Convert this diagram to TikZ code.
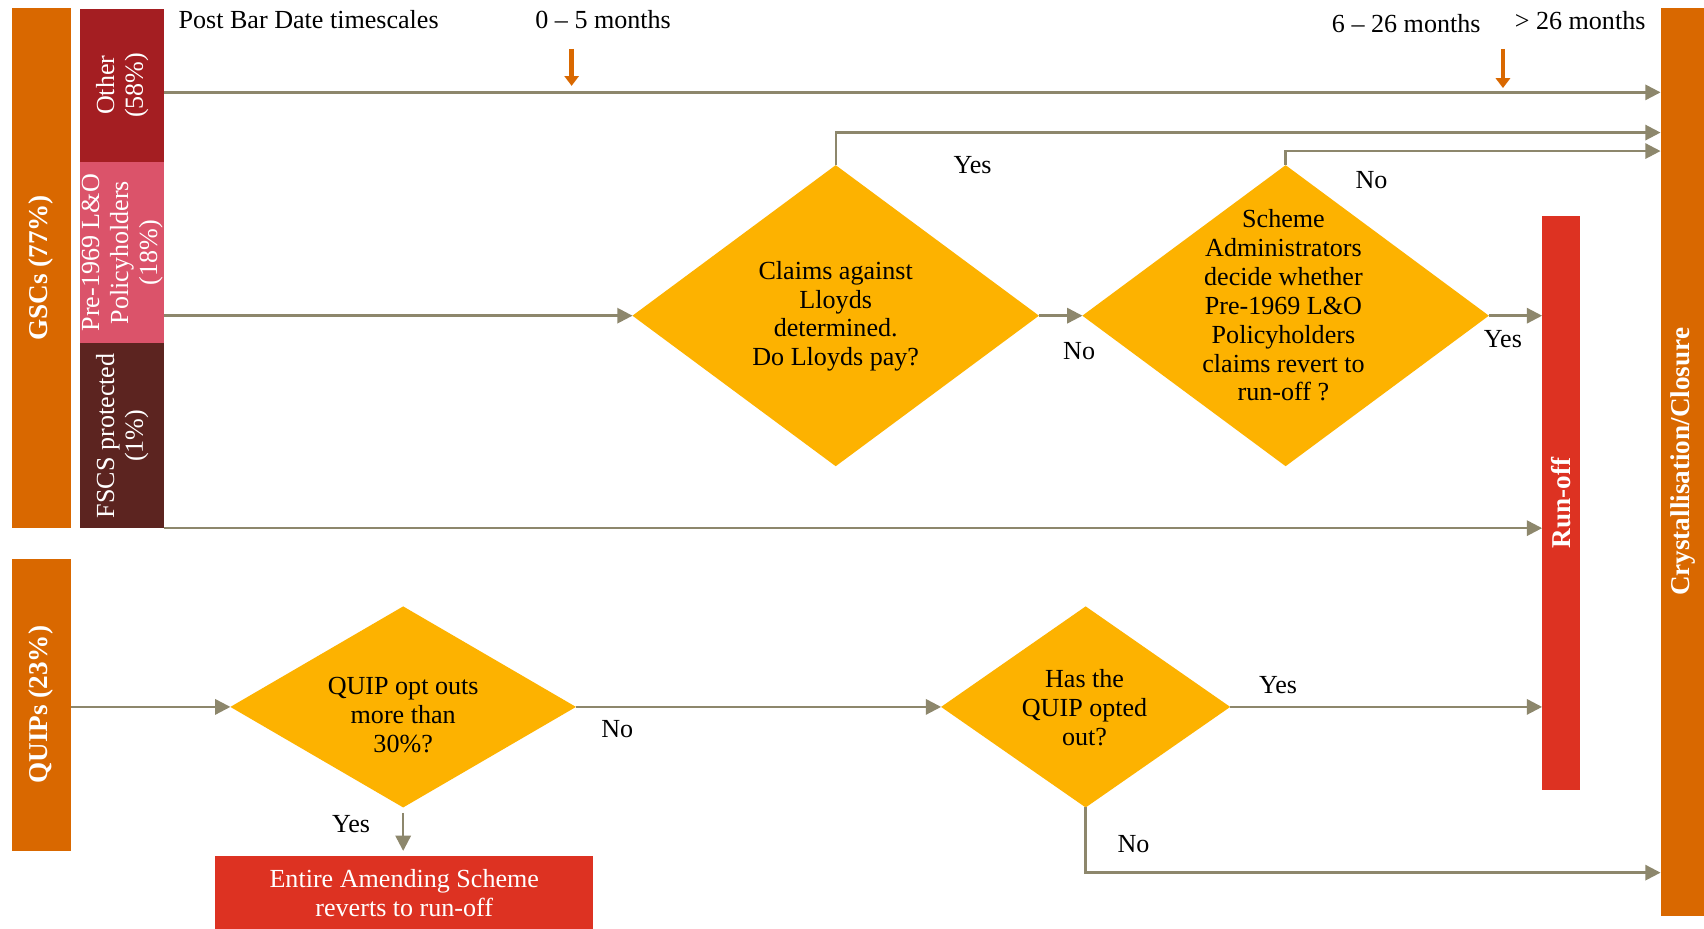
\documentclass[tikz,border=0pt]{standalone}
\usepackage{fontspec}
\setmainfont{Liberation Serif}
\usetikzlibrary{shapes.geometric,arrows.meta,calc}
\definecolor{orangebar}{HTML}{D96800}
\definecolor{otherc}{HTML}{A41E22}
\definecolor{pinkc}{HTML}{DB536A}
\definecolor{fscsc}{HTML}{5C2420}
\definecolor{diac}{HTML}{FDB200}
\definecolor{redc}{HTML}{DD3222}
\definecolor{linec}{HTML}{8D876C}
\begin{document}
\begin{tikzpicture}[x=0.5pt,y=-0.5pt,
  bar/.style={rectangle, draw=none, inner sep=0pt, outer sep=0pt},
  dia/.style={diamond, fill=diac, draw=none, inner sep=0pt, outer sep=0pt},
  flow/.style={draw=linec, line width=1.1pt, -{Triangle[length=7pt,width=7pt]}},
  txt/.style={font=\fontsize{12}{13.3}\selectfont, align=center, inner sep=0pt},
  wtxt/.style={txt, text=white},
  vtxt/.style={txt, text=white, rotate=90},
  btxt/.style={font=\bfseries\fontsize{12.5}{14}\selectfont, text=white, inner sep=0pt, rotate=90},
  tick/.style={draw=orangebar, line width=2.2pt, -{Triangle[length=4.5pt,width=6.5pt]}}]

\clip (0,0) rectangle (1568,854);
\fill[white] (0,0) rectangle (1568,854);

% left category bars
\node[bar, fill=orangebar, minimum width=27pt, minimum height=239.5pt] (gsc) at (38,246.5) {};
\node[btxt] at (gsc) {GSCs (77\%)};
\node[bar, fill=orangebar, minimum width=27pt, minimum height=134.5pt] (quips) at (38,648.5) {};
\node[btxt] at (quips) {QUIPs (23\%)};

\node[bar, fill=otherc, minimum width=38.5pt, minimum height=70.5pt] (other) at (112.5,78.5) {};
\node[vtxt] at (other) {Other\\(58\%)};
\node[bar, fill=pinkc, minimum width=38.5pt, minimum height=83.5pt] (pre) at (112.5,232.5) {};
\node[vtxt] at (pre) {Pre-1969 L\&O\\Policyholders\\(18\%)};
\node[bar, fill=fscsc, minimum width=38.5pt, minimum height=85pt] (fscs) at (112.5,401) {};
\node[vtxt] at (fscs) {FSCS protected\\(1\%)};

% right bars
\node[bar, fill=redc, minimum width=17.5pt, minimum height=264pt] (runoff) at (1436.5,463) {};
\node[btxt] at (runoff) {Run-off};
\node[bar, fill=orangebar, minimum width=24pt, minimum height=418pt] (cryst) at (1552,425) {};
\node[btxt] at (1549,425) {Crystallisation/Closure};

% bottom box
\node[bar, fill=redc, minimum width=174pt, minimum height=34.5pt] (entire) at (372,822.5) {};
\node[wtxt] at (372,822) {Entire Amending Scheme\\reverts to run-off};

% diamonds
\node[dia, minimum width=187pt, minimum height=138.5pt] (d1) at (769,290.5) {};
\node[txt] at (769,291) {Claims against\\Lloyds\\determined.\\Do Lloyds pay?};
\node[dia, minimum width=187pt, minimum height=138.5pt] (d2) at (1183,290.5) {};
\node[txt] at (1181,281) {Scheme\\Administrators\\decide whether\\Pre-1969 L\&O\\Policyholders\\claims revert to\\run-off ?};
\node[dia, minimum width=159pt, minimum height=92.5pt] (d3) at (371,650.5) {};
\node[txt] at (371,658) {QUIP opt outs\\more than\\30\%?};
\node[dia, minimum width=133pt, minimum height=92.5pt] (d4) at (999,650.5) {};
\node[txt] at (998,651) {Has the\\QUIP opted\\out?};

% header texts
\node[txt] at (284,18) {Post Bar Date timescales};
\node[txt] at (555,18) {0 – 5 months};
\node[txt] at (1294,22) {6 – 26 months};
\node[txt] at (1454,19) {> 26 months};

% orange time markers
\coordinate (t1a) at (526,45); \coordinate (t1b) at (526,79);
\coordinate (t2a) at (1383,45); \coordinate (t2b) at (1383,81);
\draw[tick] (t1a) -- (t1b);
\draw[tick] (t2a) -- (t2b);

% connectors
\coordinate (o1) at (151,85);
\draw[flow] (o1) -- (o1 -| cryst.west);
\coordinate (p1) at (151,290.5);
\draw[flow] (p1) -- (d1.west);
\coordinate (d1top) at (769,122);
\draw[flow] (d1.north) -- (d1top) -- (d1top -| cryst.west);
\coordinate (d2top) at (1183,139);
\draw[flow] (d2.north) -- (d2top) -- (d2top -| cryst.west);
\draw[flow] (d1.east) -- (d2.west);
\draw[flow] (d2.east) -- (d2.east -| runoff.west);
\draw[flow] (fscs.south east) -- (fscs.south east -| runoff.west);
\draw[flow] (d3.west -| quips.east) -- (d3.west);
\draw[flow] (d3.east) -- (d4.west);
\draw[flow] (d4.east) -- (d4.east -| runoff.west);
\coordinate (d4bot) at (999,803);
\draw[flow] (d4.south) -- (d4bot) -- (d4bot -| cryst.west);
\draw[flow, shorten <=2.5pt, shorten >=2.5pt] (d3.south) -- (d3.south |- entire.north);

% branch labels
\node[txt] at (895,152) {Yes};
\node[txt] at (1262,166) {No};
\node[txt] at (993,323) {No};
\node[txt] at (1383,312) {Yes};
\node[txt] at (568,671) {No};
\node[txt] at (323,758) {Yes};
\node[txt] at (1176,630) {Yes};
\node[txt] at (1043,777) {No};
\end{tikzpicture}
\end{document}
